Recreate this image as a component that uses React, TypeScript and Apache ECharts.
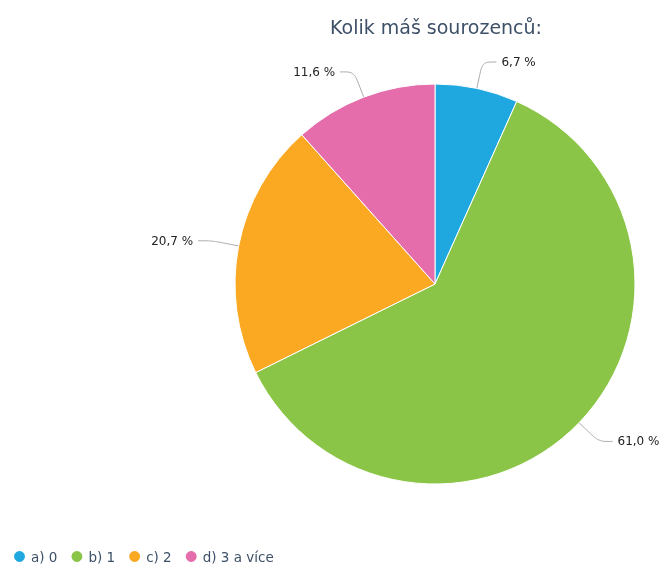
import React, { useEffect, useRef } from "react";
import * as echarts from "echarts";

const categories = ["a) 0", "b) 1", "c) 2", "d) 3 a více"];
const values = [6.7, 61.0, 20.7, 11.6];
const colors = ["#1fa8e0", "#8bc547", "#fba823", "#e56dab"];
const titleText = "Kolik máš sourozenců:";

export default function App() {
  const ref = useRef<HTMLDivElement>(null);
  useEffect(() => {
    if (!ref.current) return;
    const chart = echarts.init(ref.current, null, { renderer: "svg" });
    chart.setOption({
      animation: false,
      textStyle: { fontFamily: "DejaVu Sans" },
      title: {
        text: titleText,
        left: 330,
        top: 17,
        padding: 0,
        textStyle: { fontFamily: "DejaVu Sans", fontSize: 19, fontWeight: "normal", color: "#3d5068" },
      },
      legend: {
        left: 12,
        top: 549,
        padding: 0,
        icon: "circle",
        itemWidth: 13,
        itemHeight: 13,
        itemGap: 12,
        textStyle: { fontFamily: "DejaVu Sans", fontSize: 13.5, color: "#3d5068" },
        data: categories,
      },
      series: [
        {
          type: "pie",
          center: [435, 284],
          radius: 200,
          startAngle: 90,
          clockwise: true,
          data: categories.map((c, i) => ({ name: c, value: values[i], itemStyle: { color: colors[i] } })),
          itemStyle: { borderColor: "#fff", borderWidth: 1 },
          label: {
            show: true,
            position: "outside",
            overflow: "none",
            fontFamily: "DejaVu Sans",
            fontSize: 12,
            color: "#222",
            formatter: (p: any) => p.value.toFixed(1).replace(".", ",") + " %",
          },
          labelLine: {
            show: true,
            length: 27,
            length2: 14,
            smooth: 0.3,
            lineStyle: { color: "#aaa", width: 1 },
          },
        },
      ],
    });
    return () => chart.dispose();
  }, []);
  return <div ref={ref} style={{ position: "fixed", left: 0, top: 0, width: 659, height: 565 }} />;
}
